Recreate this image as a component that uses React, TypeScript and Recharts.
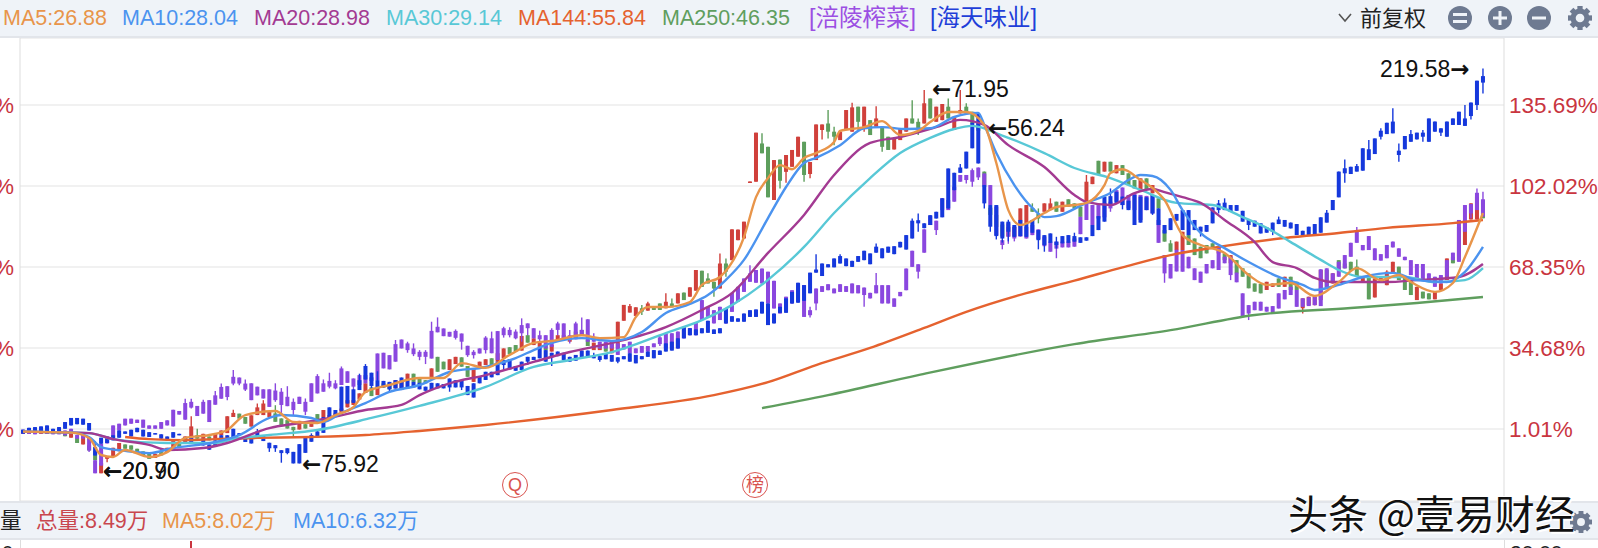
import React from "react";
import { ComposedChart, Bar, Line, XAxis, YAxis, CartesianGrid } from "recharts";

// main stock: [open, close, high?, low?] in percent
const mainBars: number[][] = [
[-1,0],[-1,0],[-1,-.2],[-1,-.2],[-1,0],[-1,0],[-1,-.2],[-.7,-2],[-2.6,-1],[-2.6,-4.8],
[-5.4,-2.1],[-5.8,-7.9],[-8,-12],[-17.4,-13.2],[-11.4,-10.4,-10.4,-12.8],[-10.4,-6.8],[-8.2,-4.8],[-5.4,-7.2],[-5.8,-7.6],[-7.2,-8.6],
[-8.3,-10],[-9.3,-11.4],[-11,-9.3],[-8.6,-10],[-8.6,-6.8],[-7.6,-3.5],[-4.8,-6.5],[-4.8,-2.1],[-3,2.1,6.3],[-1.6,-3,1.1],
[-3,-1],[-2.1,-3.7],[-3,-1],[-1.6,.4],[-.7,6.3],[6,7.7,9],[7.4,5.3],[6,3.2],[2,6.7],[6.8,10,11.6],
[6.8,11.6,13],[6,8.2],[7.5,4,10.9],[5.4,2.6],[4.7,1.2],[1.9,.5,1.9,-2.2],[.8,4.4],[3,1.2],[1.9,4.4],[7.2,4],
[6,8.9],[5.4,6.8],[6,7.5],[8,9.5],[10,13],[11,13],[13.3,15.8],[16,20],[18.3,14.7],[15.1,18.3],
[20,18.3],[20,17.5],[17.9,21.3],[18,20.6],[21.3,24],[24,20.6],[22,20],[21.3,20],[22,26.2],[31,24.8],
[29,25.8],[25.5,30],[28,31],[30.8,26.9],[27.2,22.7],[20.6,26.2],[26.2,29],[27.6,30],[30.4,27.6],[29,32.5],
[30.4,34.5],[35,32.2],[35.9,33.2],[33.6,39.7],[40,36.9],[35.9,38.7],[35.2,37.3],[35.9,33.8],[33.2,35.9],[37.3,40],
[38,40],[37.3,39.4],[41.5,38.7],[42.2,40],[38,35.5],[33.8,36.9],[33.8,35.9],[35.9,33.2],[32.5,36.6],[34.5,45.6],
[46,52.6],[49.4,52.1,53],[48,51.6],[51.2,49.8,52.6,48.4],[50.2,53.2,53.9],[52.1,50.5],[53.2,50.5],[51.2,53.9,57.4],[53.2,51.6,55.3],[53.2,57.4],
[57.7,54.6],[56,59.9],[58.5,67.1],[66.8,60.1],[63.6,61.5,65.7],[62.2,59.4,62.2,56],[59.4,69.8,74],[69.8,66.4,71.9,64.3],[71.2,84],[79.5,83.9],
[80.2,87.2],[103.4,103.9],[103.8,124.2],[119.7,115.6,123.9],[118.3,97.3],[96.2,112.8],[113,104.2,113,101],[107.9,114.9,114.9,103.4],[110,117],[114.2,122.5],
[120.4,106.6,120.4,103.8],[107,112,112,105.2],[112.8,127.6],[125.3,127.6,127.6,121.4],[128,124.6,133.6,121.8],[124.6,122.5,126.7,119],[121.1,124.6],[125.3,133.6],[124.6,134.7,136.6],[135,128.7,135,125.3],
[126.6,135,135,124.6],[129.4,123.2],[126.6,130.1,135.2],[126.7,118.3,126.7,116.3],[122.5,117],[117.2,121.8],[121.1,126],[124.6,130.1],[130.1,128,137.7],[128.7,126,130.1,123.2],
[128,136.4,141.9],[138.4,130.1],[128.7,135],[129.4,136.1],[135,130.1,138.4],[125.3,130.8],[132.2,133.6,141.9],[135,132.2,136.4],[132.9,128],[128,125],
[108,102.4],[93,90],[90,85],[86,81],[81,85],[81,85],[86.5,92.7],[86.5,94.1],[92.9,91.3,94.8],[90.6,88.5,92.7,86.5],
[91.3,94.8],[92,94.8,96.9],[95.5,91.3],[91.3,95.5],[96.5,93.4],[94.8,92.7],[93.4,89.2],[95.5,103.8,106.6,87.9],[102.8,105.9],[112.5,106.6],
[108,112.1],[112.1,108],[107.3,110.7],[110.7,106.6],[107.3,102.4],[104.5,101],[100.3,105.2],[105.2,100.3],[99,102.4],[96.9,92.7],
[83.7,78.9],[78.2,74.7,79.5],[75.4,78.9],[75.4,83],[81.6,77.5],[80.2,73.3],[76.8,72],[77.5,74],[78.2,76.1],[74,76.8],
[74,71.2],[69.9,73.3],[71.2,65.7],[67.8,64.3],[65.7,59.5],[61.5,58.1],[61.3,57.4],[58.8,62.2],[60.1,61.5],[63.6,60.1],
[60.1,64.3],[64.3,58.8],[62.2,58.8],[51.2,55.3,55.3,49],[52.5,56],[52.5,56],[54.6,67.1],[67.1,59.5],[61.5,65.7],[71.2,67.1],
[69.8,67.8],[70.5,66.8],[68.5,64.3,71.5],[62.2,64.3],[64.3,54.9],[55.7,63.6],[62.2,64.3],[60.8,66.4,67],[65.7,70.5],[68.5,62.9],
[64.3,58.8],[62.9,56.7],[54.6,60.1],[58.1,55.3],[57.4,54.9],[54.9,58.1],[58.8,61.5],[62.9,71.9],[72.6,69.9],[71.2,85],
[77.5,87.9],[88.1,94.8],[88.1,97.6],[96.2,88.6]
];

// 涪陵榨菜: [body top, body bottom, high?, low?]
const purpleBars: number[][] = [
[.7,-.9],[.4,-1],[1,-1.2],[1,-.7],[.7,-.9],[.7,-1.2],[.7,-1.2],[.4,-1.6],[1.1,-1],[-1.5,-3],
[-1.5,-3],[-2.6,-7.9,-2.6,-8.6],[-12,-17.4],[-5.1,-14.2],[-2.6,-5],[2.5,-3],[3.2,.4],[5.3,2.5],[5.3,3.2],[4.9,3.5],
[4.9,1.5],[2.5,1.1],[2.5,1.1],[3.9,1.1],[4.6,2.5],[9,2.1],[8.5,7],[11.8,4.9,13.6],[12.3,9.9,13.6,9.5],[10.6,6.4],
[12.3,7.4,13.2],[13,3.9],[15,11.1,16.8],[18.5,13.6,19.9],[18.8,14.3,18.8,13],[22.7,19.9,25.5,19.2],[22.4,19.9,22.4,19.2],[19.9,17.4,21.6,16.8],[20,13],[18.6,15],
[17.5,13.7],[17.5,10.2],[17,13,20,12.3],[16.5,11,18,7],[14.4,10.5,18.8],[12.3,8.9,13.7,6.8],[14.4,11.4],[12.3,8.2,13.7,6.8],[20,12.3],[23,15.8,23.8],
[20,16.5,21.6],[21,18.6,24.4,17.9],[20,17.9,21.3,17.5],[26.2,19.3,27],[25,20.2],[22,18.6,22,15.8],[23.4,19.3],[23.4,20],[22.5,21],[32.4,21.3],
[32.7,26.2],[31.7,25.8],[36.3,29,38],[38.2,34.5],[36.6,33.8,37.3,32.7],[34.5,32.1,36.6,31.3],[33.1,31,33.8,29.6],[33.1,31,33.8,28],[41.8,30.3,45.6],[43.5,41.2,47.4],
[42.8,39.6],[41.4,39.4],[41.8,38.9,42.4,38.2],[40.7,37.3,40.7,34],[35.6,31.7,35.6,31],[33.1,31.7,33.8,30.3],[34.5,32.4],[39,33.8,39.6,32.4],[38.7,32.5,41.5],[41.7,29.7],
[42.9,40,43.5,39],[42.2,40,43.3,39.1],[41.5,38.7,42.4,38.3],[44.2,40.8,47,37.3],[44.9,42.9,44.9,40],[42.9,38.7],[40,38.3,41.9,37.3],[40,34.5],[42.2,35.2,42.9],[44.9,42.2,45.6,40],
[44.9,38.7],[40,38.7,42.2,36.6],[44.9,38.3,45.6],[42.2,40,47.4],[46.6,37.3],[39.1,37.3,40.8],[37.3,34.5],[37.3,34.5],[36.6,34.5],[36.6,31.8],
[36.3,34.1],[37.3,32.5],[34.5,32.5],[35.5,32.7],[35.5,33.2],[36.6,35],[39.1,36.3,40,35.5],[40.8,34.5],[40.8,34.5],[41.5,34.5],
[43.5,38.7],[42.9,40],[45.2,40],[54.6,46.3],[51.8,47.6],[50.4,44.9],[51.8,46.3],[51.1,44.9],[57.6,49.7],[60.1,53.9],
[63.6,58],[65.7,62.2,69.1],[67.1,61.8],[67.7,61.5],[66.4,53.2],[62.6,51.1],[53.2,49],[56,50.4],[58.7,53.2],[60.8,53.9],
[60.8,47.6],[50.4,48.3,51.8,47.4],[59.4,53.2,59.4,50.4],[60.4,58],[61.2,58.7],[59.4,57.4],[61.2,58],[60.4,58],[61.5,57.4],[60.8,57.4],
[59.8,56.7,59.8,51.8],[57.6,55.3],[60.8,57.4,65.9],[60.8,53.2],[60.8,53.2],[55.3,51.8],[58,56.2],[67.7,58.7],[75.1,68.4],[69.5,66.4,69.5,63.6],
[84,74.3],[89.5,85.8],[87.6,83.7,87.6,81.6],[96.9,92],[96.2,92],[101.7,95.5],[106.6,103.8],[106.6,104.5,106.6,103.1],[108.6,103.8,109.3,101.7],[109.7,105.6,109.7,104.5],
[107.2,101.7],[102.4,94.1],[93.4,81.6],[79.5,77.5,79.5,75.7],[86.5,81,86.5,78],[85.1,80.2,85.1,79],[86.5,81],[85,80.2],[85.8,81.6],[84,80],
[81,77],[78.9,74.7],[78.9,76,78.9,72],[78.9,76.5],[78.9,76.5],[80.2,76.8],[89.2,82],[95.5,87.9],[94.1,85.8],[94.1,88.5],
[95,89],[95.5,92.7,95.5,91.3],[100.3,95.5],[101.4,94.1],[98.3,92.7],[99,92],[98.3,87.9],[97.9,92],[98.3,90.6],[87.9,78.4],
[73.3,65.7,73.3,61.8],[69.6,63.6],[75.5,66.5],[75.4,66.4],[72.6,67.8],[67.8,62.9],[66.4,61.8],[69.6,65.7],[71.2,67.8],[76.8,67.1],
[72.6,69.9],[72.6,65,72.6,62.9],[66,62],[57.4,47.7],[52.5,49,52.5,46.3],[53.9,50.4],[53.9,50.2],[51.8,49.8],[52.1,49.3],[57.4,51.1],
[58.8,54.9],[60.1,56.7],[58.8,51.8],[55.3,51.8],[55.7,52.1],[56,52.5],[67.4,52.1],[67.8,60.1],[65.7,61.8],[70.5,64.3],
[73.3,67.8],[78.4,72.6],[83.7,78.4,85],[77.5,75.3],[81.2,75.4],[76.1,71.2],[73.7,71],[77.5,72],[78.9,76.5],[76.1,72.6],
[72.6,71.2],[71.2,65],[69.6,63.6],[69.6,62.9],[65.7,62.2],[64.3,60.1],[65,61.5],[71.2,64.3],[74.3,71.2],[87.9,70.5],
[94.1,83],[94.5,90.6,94.5,88.6],[99.2,92,101],[96.5,89.3,99.6]
];

// 海天味业: [body top, body bottom, high?, low?]
const blueBars: number[][] = [
[.7,-.9],[1.5,-.3],[1.8,-.3],[2.1,-.3],[2.5,-.7],[1.1,-.7],[1.8,-1],[3.9,1.1],[5.6,2.5],[5.6,3],
[5.3,2.8],[3.5,.4],[-6.5,-10,-4],[-2.6,-5.1],[-2.1,-4.8],[-1.6,-3.7],[.4,-2.6],[0,-1],[.7,-2.1],[1.5,-.3],
[.7,-2.1],[-.3,-2.3],[-.7,-1.2],[-1.2,-3],[-2.1,-3.7],[-.3,-2.6],[-1,-1.6],[-2.3,-4],[-2.6,-4.8],[-4.4,-5.8],
[-3,-5.8],[-5.4,-7.6],[-3.7,-6.5],[-1.6,-3.7],[-1.6,-4],[1.1,-2.6],[-.7,-1.6],[-2.1,-4.4],[-2,-5],[0,-2,1],
[-1.5,-4],[-4.7,-7,-4.7,-8.5],[-5.7,-7,-5.7,-8.5],[-7.8,-9,-7.8,-13],[-7,-9,-7,-9.5],[-8.5,-13.3],[-5.3,-13.3],[-2.2,-8.9],[-1.5,-4.3,-.8],[0,-2.5,.8],
[6,-.6],[10,5.8],[8.9,6],[18.6,8.6],[18.9,11.6],[17.5,11.9],[21.3,17.2,24],[27.2,21.6,28],[24.4,18.9,24.4,18],[21.3,17.9,25],
[21,18.3],[20.6,17.5,20.6,16.5],[21.3,17.9],[22.4,17.2],[21.3,17.9],[20.6,18.3],[20.2,17.5],[18.6,16.9],[20.2,17.2],[20,17.9],
[19.7,17.9],[22,18.3,22,16.5],[21.3,18.3],[21,18.3,21,17.2],[18.9,15.1],[20,14.1],[23,20],[24.8,21.4],[24.8,22.5],[29,23.4],
[29.7,27.6,29.7,25.5],[30,25.8],[27.2,25.2],[29,25.5],[31,29,31,27.6],[31,29.7],[35.2,30.4],[33.8,29],[32.7,30.8,32.7,27.2],[33.2,31.3],
[32.7,29.7],[31,29],[31.8,29.4],[33.6,30.8],[33.6,30.8],[31.3,30.4,32.7],[31.3,29.7,31.3,29],[32.5,30],[31.8,29],[30.8,29,30.8,28.3],
[31.3,30],[32.5,29],[31.8,28.3],[31.3,30],[33.2,31],[33.8,30.4],[33.6,31.8],[36.6,33.2],[37.3,33.6],[38.7,34.5],
[43.3,38.7],[42.9,40],[42.4,40],[42.9,40.8],[46,41],[42.4,40.5],[42.9,40.8],[51.1,44.9],[47.9,45.6],[47,45.6],
[49,45.6],[50.4,47.6],[50.7,47.6],[53.9,49],[53.2,44.2],[49,44.9],[51.8,49.3],[55.3,49.3],[58,53.2],[61.8,53.5],
[60.8,54.3],[66,57.4],[67.3,66,73.7],[69.8,64.6],[69.5,68.2],[71.9,68.2],[72.9,69.8,73.7],[71.9,68.7],[70.9,68.4],[72.9,70.5],
[75.1,71.2],[74,69.5],[76.8,74.3,78.1],[76.1,72],[76.8,74.3],[77,73.7],[78.8,76.5],[81.6,75.6],[87.6,80.2,88.5],[87.8,86.5,90.6,83],
[86.5,84.5],[89.9,85.8],[91.3,88.5],[96.9,89],[109.3,92.7],[107.5,100.3],[109.7,107.5,111.2],[116.3,109.3],[128.3,117.7],[131.9,111.4],
[102.4,94.8,102.4,92.7],[94.1,85.1,94.1,83],[94.1,81.2,94.1,79.8],[87.2,80.2,87.2,78.5],[87.2,83,88,79],[85.8,80.9],[87.9,81.2],[86.2,80.9],[87.9,82.6],[83.7,79.5,83.7,75.7],
[81.6,77.5,81.6,74.7],[82.3,78.4],[78.9,77.5,80.9,76],[81.2,78.2],[81.6,78.4],[81.2,78.9,82.6],[80.7,78.4],[80.7,79.3],[85.8,81.2],[89.5,83.7],
[97.6,87.2],[97.8,94.1,101],[99.6,95],[97.6,94.1,97.6,92.3],[95.9,92],[98.3,85.8],[97.6,86.8],[97.3,92],[98.3,90.6,98.3,90],[92.7,85.8],
[85.8,82.3],[88.6,83.7],[90.4,87.6],[92,83.7],[92,81.6],[87.9,83.7],[85.1,83,85.1,81],[85.8,83],[93.1,86.5],[94.8,92,96.2,90.6],
[95.1,92,96.9],[94.1,91.3],[94.1,91.7],[91.7,87.2],[87.9,85.8,87.9,83.7],[87.6,85.1],[86.5,82.3],[84.8,82.6],[86.8,83,86.8,81.6],[88.1,86.2,89.3],
[87.9,85.1],[86.8,84.4],[86.2,81.6],[83.4,81.6],[85.1,81.6],[86.2,81.6],[89,82.6],[90.9,86.8,92],[96.2,92],[108,97.3],
[109.4,107.3,113,103.4],[110,107],[110.3,108,111.2],[117.7,108.4],[117.3,112.8,121.1],[121.8,115.3],[125,122.5,126,121.4],[128.3,123.6],[128.8,123.9,134.3],[116.7,114.9,119.7,112.1],
[122.8,117.3],[123.6,120.4,125.3],[124.2,121.4],[124.2,122.5,125.3,120.4],[130.1,120.4],[128.8,124.6],[126,124.2,126,122.8],[128.8,122.5],[130.1,127.4],[132.9,127.4],
[130.1,127,135.7],[136.7,131.1,136.7,129.7],[145.8,135.7,145.8,133.6],[147.7,145,150.9,140.5]
];

// moving averages: [candle number, percent]
const ma5Pts: number[][] = [[0,-.1],[8,-.5],[11,-2.7],[13,-9.8],[15,-10.6],[17,-7.7],[21,-10.6],[24,-8.6],[27,-2.7],[31,-1.5],[34,.6],[37,6.8],[42,8.5],[45,3.9],[49,3.5],[52,6.8],[55,10.1],[57,16.4],[61,19.3],[66,22.2],[70,22.2],[73,28.4],[77,26.4],[81,31.8],[85,36.8],[88,37.6],[93,40],[96,38.8],[100,39.2],[102,47.6],[104,51.7],[107,51.7],[111,53.8],[113,60.9],[116,64.2],[120,80.8],[122,97.4],[124,105.3],[126,110.7],[128,109],[130,113.7],[132,115.7],[135,120.3],[136,124.9],[140,126.5],[143,129],[146,123.2],[149,124.9],[151,128.6],[154,132.8],[157,132.8],[160,127.4],[162,111.6],[164,92],[166,85.8],[170,90.8],[172,93.3],[175,94.1],[177,95],[180,102.4],[181,107.4],[183,109],[186,104.5],[188,101.2],[190,96.2],[193,81.6],[196,77.5],[200,74.2],[204,65],[207,60.9],[211,61.7],[215,56.3],[219,62.1],[222,67.9],[226,62.9],[229,65],[231,62.1],[235,58],[238,61.7],[240,72.5],[243,90.8]];
const ma10Pts: number[][] = [[0,-.1],[8,-.5],[11,-2.3],[13,-6.5],[17,-8.1],[21,-9],[25,-6.9],[32,-4.4],[36,-1.5],[41,5.6],[43,6.8],[48,5.6],[50,3.9],[53,7.7],[57,11.8],[61,16.4],[66,19.3],[71,24.7],[77,26.8],[82,30.5],[85,33.8],[88,36.8],[93,38.8],[98,37.6],[103,41.3],[107,49.2],[111,53],[114,56.7],[117,63],[120,71.3],[124,88.7],[127,101.6],[130,111.6],[132,113.7],[136,119],[140,126],[143,126.5],[147,125.7],[151,126],[155,130.7],[159,132.4],[160,127.4],[162,115.7],[165,102.4],[168,92.9],[170,89.1],[172,89.5],[177,95],[181,99.1],[184,104.5],[186,106.6],[188,106.2],[191,100.4],[193,92],[196,82.5],[200,76.2],[204,70.4],[209,64.2],[213,60.9],[215,58.8],[219,60.9],[223,64.2],[228,65.9],[232,62.9],[237,62.1],[240,66.3],[243,76.7]];
const ma20Pts: number[][] = [[0,-.1],[8,-.5],[11,-.7],[15,-3.2],[21,-5.6],[24,-7.7],[30,-6.9],[34,-4.8],[41,1.4],[46,3.5],[51,5.6],[57,8.9],[63,11],[66,15.1],[71,20],[77,23.4],[79,24.7],[85,28.9],[91,33],[98,36.8],[107,43.4],[113,50.5],[118,57.5],[124,74.2],[130,90],[135,106.6],[141,119.9],[146,122.4],[152,126.5],[156,129.5],[160,127.4],[164,119],[170,109.9],[175,98.3],[177,95.4],[181,94.1],[185,99.1],[188,100.8],[190,99.5],[193,97.4],[196,95],[200,87.9],[205,78.7],[208,70.4],[212,67.9],[215,63.8],[218,62.1],[227,62.1],[232,62.9],[239,64.2],[243,69.6]];
const ma30Pts: number[][] = [[0,-.1],[11,-.7],[15,-3.2],[24,-4.8],[32,-4.8],[35,-3.2],[41,-1.5],[49,.6],[58,5.6],[66,10.6],[77,18.5],[85,26.8],[91,29.7],[98,33],[107,40.9],[113,46.3],[118,52.5],[124,63],[130,76.7],[135,90.8],[141,105.3],[146,115.7],[151,122],[155,125.7],[158,127],[163,123],[170,115.7],[175,109.5],[181,105.3],[186,100.4],[192,95],[198,94.1],[203,89.1],[207,84.6],[211,78.7],[216,71.3],[219,67.1],[223,64.2],[230,64.2],[235,62.1],[240,62.9],[243,67.9]];
const ma144Pts: number[][] = [[17,-2.3],[21,-3.2],[27,-3.6],[32,-3.2],[39,-2.7],[48,-2.3],[57,-1.5],[66,.2],[77,2.7],[98,8.9],[115,15.1],[124,20.5],[132,27.6],[141,34.7],[150,43],[157,49.7],[167,57.5],[175,62.7],[183,68.2],[191,73.3],[199,76.7],[210,80.4],[219,82.5],[227,84.6],[238,86.6],[243,87.9]];
const ma250Pts: number[][] = [[123,9.7],[134,15.1],[149,23.4],[175,36.3],[191,42.1],[205,48.4],[221,51.3],[232,53.4],[243,55.9]];

const percentTicks = [1.01, 34.68, 68.35, 102.02, 135.69];
const yDomain = [-28.92, 163.54];
const emptyBands = 3;

const headerItems = [
  { text: "MA5:26.88", x: 3, color: "#E8954A", size: 21.5 },
  { text: "MA10:28.04", x: 122, color: "#4B93EF", size: 21.5 },
  { text: "MA20:28.98", x: 254, color: "#A33A92", size: 21.5 },
  { text: "MA30:29.14", x: 386, color: "#58C8D6", size: 21.5 },
  { text: "MA144:55.84", x: 518, color: "#E5622F", size: 21.5 },
  { text: "MA250:46.35", x: 662, color: "#5F9E5E", size: 21.5 },
  { text: "[涪陵榨菜]", x: 809, color: "#9B4FE3", size: 23.5 },
  { text: "[海天味业]", x: 930, color: "#1F3FD9", size: 23.5 },
];
const volumeItems = [
  { text: "量", x: 0, color: "#222" },
  { text: "总量:8.49万", x: 36, color: "#C9474E" },
  { text: "MA5:8.02万", x: 162, color: "#E8954A" },
  { text: "MA10:6.32万", x: 293, color: "#4B93EF" },
];
const notes = [
  { text: "←71.95", x: 932, y: 89 },
  { text: "←56.24", x: 988, y: 128 },
  { text: "219.58→", x: 1380, y: 69 },
  { text: "←75.92", x: 302, y: 464 },
  { text: "←20.90", x: 103, y: 471 },
  { text: "←20.70", x: 103, y: 471 },
];

const FONT = '"Liberation Sans", "Noto Sans CJK SC", sans-serif';
const toCandle = (b?: number[]) =>
  b ? { a: b[0], b: b[1], h: b[2] ?? Math.max(b[0], b[1]), l: b[3] ?? Math.min(b[0], b[1]) } : null;
const ma = (pts: number[][], i: number) => {
  const p = pts.find((q) => q[0] === i);
  return p ? p[1] : null;
};
const rows = Array.from({ length: mainBars.length + emptyBands }, (_, i) => ({
  idx: i,
  main: toCandle(mainBars[i]),
  purple: toCandle(purpleBars[i]),
  blue: toCandle(blueBars[i]),
  ma5: ma(ma5Pts, i),
  ma10: ma(ma10Pts, i),
  ma20: ma(ma20Pts, i),
  ma30: ma(ma30Pts, i),
  ma144: ma(ma144Pts, i),
  ma250: ma(ma250Pts, i),
}));

const candleShape = (key: "main" | "purple" | "blue") => (props: any) => {
  const { x, y, width, height, payload } = props;
  const c = payload?.[key];
  if (!c || !Number.isFinite(y) || !Number.isFinite(height)) return <g />;
  const unit = height / (c.h - c.l || 1);
  const py = (v: number) => y + (c.h - v) * unit;
  const top = py(Math.max(c.a, c.b));
  const bottom = py(Math.min(c.a, c.b));
  const fill =
    key === "purple" ? "#8A47DF" : key === "blue" ? "#1538DC" : c.b > c.a ? "#D0403B" : "#5D9E5C";
  const cx = x + width / 2;
  return (
    <g>
      <line x1={cx} x2={cx} y1={y} y2={y + height} stroke={fill} strokeWidth={1.4} />
      <rect x={x} y={top} width={width} height={Math.max(bottom - top, 1.5)} fill={fill} />
    </g>
  );
};
const range = (key: "main" | "purple" | "blue") => (r: any) => (r[key] ? [r[key].l, r[key].h] : null);

const Flat = ({ x, y, w, h, bg }: any) => (
  <div style={{ position: "absolute", left: x, top: y, width: w, height: h, background: bg }} />
);
const Tag = ({ text, x, top, h, color, size, extra }: any) => (
  <div style={{ position: "absolute", left: x, top, height: h, lineHeight: `${h}px`, color, fontSize: size, whiteSpace: "nowrap", fontFamily: FONT, ...extra }}>
    {String(text).split(/([←→])/).map((part: string, i: number) =>
      part === "←" || part === "→" ? (
        <span key={i} style={{ fontFamily: '"DejaVu Sans", sans-serif', fontWeight: 700 }}>{part}</span>
      ) : (
        <span key={i}>{part}</span>
      )
    )}
  </div>
);
const Gear = ({ cx, cy, r, color }: any) => (
  <g>
    <circle cx={cx} cy={cy} r={r * 0.58} fill="none" stroke={color} strokeWidth={r * 0.42} />
    {[0, 45, 90, 135].map((a) => (
      <rect key={a} x={cx - r * 0.22} y={cy - r} width={r * 0.44} height={r * 2} fill={color} transform={`rotate(${a} ${cx} ${cy})`} />
    ))}
    <circle cx={cx} cy={cy} r={r * 0.36} fill="#EFF3F8" />
  </g>
);

const LINE_WIDTH = 2.4;

export default function App() {
  return (
    <div style={{ position: "absolute", left: 0, top: 0, width: 1598, height: 548, overflow: "hidden", background: "#fff", fontFamily: FONT }}>
      <div style={{ position: "absolute", left: 0, top: 0 }}>
        <ComposedChart width={1598} height={548} data={rows} margin={{ top: 38, right: 0, bottom: 47, left: 0 }} barSize={4} barGap={-4}>
          <CartesianGrid horizontal vertical={false} yAxisId="right" stroke="#E4E4E4" strokeWidth={1.2} />
          <XAxis dataKey="idx" type="category" hide />
          <YAxis yAxisId="left" orientation="left" width={20} domain={yDomain} ticks={percentTicks} allowDataOverflow tickLine={false} tickSize={0} tickMargin={6} stroke="#DDDDDD" tick={{ fill: "#C9353F", fontSize: 22.5, fontFamily: FONT }} tickFormatter={() => "%"} interval={0} />
          <YAxis yAxisId="right" orientation="right" width={94} domain={yDomain} ticks={percentTicks} allowDataOverflow tickLine={false} tickSize={0} tickMargin={5} stroke="#DDDDDD" tick={{ fill: "#C9353F", fontSize: 22.5, fontFamily: FONT, textAnchor: "start" }} tickFormatter={(v: number) => `${v.toFixed(2)}%`} interval={0} />
          <Bar yAxisId="right" dataKey={range("main")} shape={candleShape("main")} isAnimationActive={false} />
          <Bar yAxisId="right" dataKey={range("purple")} shape={candleShape("purple")} isAnimationActive={false} />
          <Bar yAxisId="right" dataKey={range("blue")} shape={candleShape("blue")} isAnimationActive={false} />
          <Line yAxisId="right" dataKey="ma250" type="monotone" stroke="#5F9E5E" strokeWidth={LINE_WIDTH} dot={false} connectNulls isAnimationActive={false} />
          <Line yAxisId="right" dataKey="ma144" type="monotone" stroke="#E5622F" strokeWidth={LINE_WIDTH} dot={false} connectNulls isAnimationActive={false} />
          <Line yAxisId="right" dataKey="ma30" type="monotone" stroke="#58C8D6" strokeWidth={LINE_WIDTH} dot={false} connectNulls isAnimationActive={false} />
          <Line yAxisId="right" dataKey="ma20" type="monotone" stroke="#A33A92" strokeWidth={LINE_WIDTH} dot={false} connectNulls isAnimationActive={false} />
          <Line yAxisId="right" dataKey="ma10" type="monotone" stroke="#4B93EF" strokeWidth={LINE_WIDTH} dot={false} connectNulls isAnimationActive={false} />
          <Line yAxisId="right" dataKey="ma5" type="monotone" stroke="#E8954A" strokeWidth={LINE_WIDTH} dot={false} connectNulls isAnimationActive={false} />
        </ComposedChart>
      </div>

      <Flat x={0} y={0} w={1598} h={36} bg="#EFF3F8" />
      <Flat x={0} y={36} w={1598} h={2} bg="#E2E5EA" />
      {headerItems.map((t) => (
        <Tag key={t.text} text={t.text} x={t.x} top={0} h={37} color={t.color} size={t.size} />
      ))}
      <svg style={{ position: "absolute", left: 1330, top: 0 }} width={268} height={37}>
        <path d="M9 14 L15 21 L21 14" fill="none" stroke="#555" strokeWidth={1.6} />
        <circle cx={130} cy={18} r={12} fill="#6E7A91" />
        <rect x={123} y={13} width={14} height={3} fill="#EFF3F8" />
        <rect x={123} y={20} width={14} height={3} fill="#EFF3F8" />
        <circle cx={170} cy={18} r={12} fill="#6E7A91" />
        <rect x={163} y={16.5} width={14} height={3} fill="#EFF3F8" />
        <rect x={168.5} y={11} width={3} height={14} fill="#EFF3F8" />
        <circle cx={209} cy={18} r={12} fill="#6E7A91" />
        <rect x={202} y={16.5} width={14} height={3} fill="#EFF3F8" />
        <Gear cx={250} cy={18} r={12} color="#6E7A91" />
      </svg>
      <Tag text="前复权" x={1360} top={0} h={37} color="#222" size={22} />

      {notes.map((n) => (
        <Tag key={n.text} text={n.text} x={n.x} top={n.y - 15} h={30} color="#111" size={23} />
      ))}
      {[{ t: "Q", x: 515 }, { t: "榜", x: 755 }].map((m) => (
        <div key={m.t} style={{ position: "absolute", left: m.x - 13, top: 472, width: 24, height: 24, lineHeight: "24px", borderRadius: "50%", border: "1px solid #D9534F", color: "#D9534F", textAlign: "center", fontSize: 18, fontFamily: FONT }}>
          {m.t}
        </div>
      ))}

      <Flat x={0} y={501} w={1598} h={2} bg="#E2E5EA" />
      <Flat x={0} y={503} w={1598} h={35} bg="#EFF3F8" />
      <Flat x={0} y={538} w={1598} h={2} bg="#E2E5EA" />
      {volumeItems.map((t) => (
        <Tag key={t.text} text={t.text} x={t.x} top={503} h={36} color={t.color} size={21.5} />
      ))}
      <Flat x={20} y={540} w={1} h={8} bg="#DDDDDD" />
      <Flat x={1504} y={540} w={1} h={8} bg="#DDDDDD" />
      <Flat x={190} y={541} w={1.5} h={7} bg="#C9353F" />
      <Tag text="0" x={2} top={541} h={24} color="#222" size={20} />
      <Tag text="20.00" x={1510} top={541} h={24} color="#222" size={21} />

      <svg style={{ position: "absolute", left: 1565, top: 507 }} width={33} height={31}>
        <Gear cx={16} cy={15} r={11} color="#6E7A91" />
      </svg>
      <Tag text="头条 @壹易财经" x={1288} top={490} h={44} color="#111" size={40}
        extra={{ fontFamily: '"Noto Sans CJK SC", sans-serif', textShadow: "1.5px 1.5px 0 #fff, -1px -1px 0 #fff" }} />
    </div>
  );
}
